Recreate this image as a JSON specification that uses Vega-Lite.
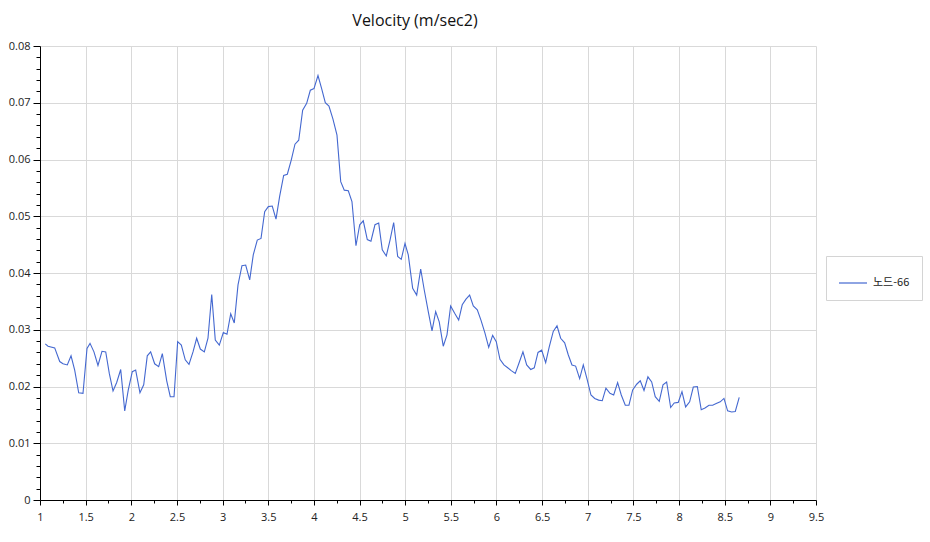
{
  "$schema": "https://vega.github.io/schema/vega-lite/v6.json",
  "width": 776,
  "height": 454,
  "autosize": {"type": "none"},
  "padding": {"left": 40, "top": 46, "right": 114, "bottom": 42},
  "background": "white",
  "config": {"view": {"stroke": null}, "font": "Open Sans"},
  "title": {"text": "Velocity (m/sec2)", "font": "Open Sans", "fontSize": 16, "fontWeight": "normal", "color": "#111", "dx": -13, "offset": 11},
  "data": {"values": [
    {"x":1.058,"y":0.0275,"s":"노드-66"},{"x":1.088,"y":0.0271,"s":"노드-66"},{"x":1.161,"y":0.0268,"s":"노드-66"},{"x":1.216,"y":0.0244,"s":"노드-66"},{"x":1.252,"y":0.0240,"s":"노드-66"},{"x":1.299,"y":0.0238,"s":"노드-66"},{"x":1.340,"y":0.0254,"s":"노드-66"},{"x":1.380,"y":0.0229,"s":"노드-66"},{"x":1.424,"y":0.0189,"s":"노드-66"},{"x":1.471,"y":0.0188,"s":"노드-66"},
    {"x":1.515,"y":0.0267,"s":"노드-66"},{"x":1.548,"y":0.0276,"s":"노드-66"},{"x":1.591,"y":0.0261,"s":"노드-66"},{"x":1.635,"y":0.0237,"s":"노드-66"},{"x":1.679,"y":0.0262,"s":"노드-66"},{"x":1.720,"y":0.0261,"s":"노드-66"},{"x":1.759,"y":0.0223,"s":"노드-66"},{"x":1.800,"y":0.0192,"s":"노드-66"},{"x":1.840,"y":0.0207,"s":"노드-66"},{"x":1.884,"y":0.0230,"s":"노드-66"},
    {"x":1.928,"y":0.0157,"s":"노드-66"},{"x":1.967,"y":0.0194,"s":"노드-66"},{"x":2.011,"y":0.0226,"s":"노드-66"},{"x":2.048,"y":0.0229,"s":"노드-66"},{"x":2.095,"y":0.0189,"s":"노드-66"},{"x":2.136,"y":0.0203,"s":"노드-66"},{"x":2.175,"y":0.0254,"s":"노드-66"},{"x":2.212,"y":0.0261,"s":"노드-66"},{"x":2.256,"y":0.0240,"s":"노드-66"},{"x":2.300,"y":0.0235,"s":"노드-66"},
    {"x":2.340,"y":0.0258,"s":"노드-66"},{"x":2.388,"y":0.0210,"s":"노드-66"},{"x":2.427,"y":0.0182,"s":"노드-66"},{"x":2.468,"y":0.0182,"s":"노드-66"},{"x":2.508,"y":0.0279,"s":"노드-66"},{"x":2.548,"y":0.0273,"s":"노드-66"},{"x":2.591,"y":0.0247,"s":"노드-66"},{"x":2.632,"y":0.0239,"s":"노드-66"},{"x":2.676,"y":0.0261,"s":"노드-66"},{"x":2.716,"y":0.0285,"s":"노드-66"},
    {"x":2.756,"y":0.0266,"s":"노드-66"},{"x":2.800,"y":0.0261,"s":"노드-66"},{"x":2.840,"y":0.0285,"s":"노드-66"},{"x":2.881,"y":0.0362,"s":"노드-66"},{"x":2.920,"y":0.0282,"s":"노드-66"},{"x":2.964,"y":0.0273,"s":"노드-66"},{"x":3.008,"y":0.0295,"s":"노드-66"},{"x":3.048,"y":0.0292,"s":"노드-66"},{"x":3.089,"y":0.0328,"s":"노드-66"},{"x":3.128,"y":0.0312,"s":"노드-66"},
    {"x":3.169,"y":0.0379,"s":"노드-66"},{"x":3.212,"y":0.0413,"s":"노드-66"},{"x":3.253,"y":0.0414,"s":"노드-66"},{"x":3.297,"y":0.0388,"s":"노드-66"},{"x":3.336,"y":0.0432,"s":"노드-66"},{"x":3.380,"y":0.0458,"s":"노드-66"},{"x":3.421,"y":0.0461,"s":"노드-66"},{"x":3.461,"y":0.0508,"s":"노드-66"},{"x":3.501,"y":0.0517,"s":"노드-66"},{"x":3.544,"y":0.0518,"s":"노드-66"},
    {"x":3.585,"y":0.0495,"s":"노드-66"},{"x":3.625,"y":0.0535,"s":"노드-66"},{"x":3.669,"y":0.0572,"s":"노드-66"},{"x":3.709,"y":0.0574,"s":"노드-66"},{"x":3.752,"y":0.0599,"s":"노드-66"},{"x":3.793,"y":0.0627,"s":"노드-66"},{"x":3.834,"y":0.0634,"s":"노드-66"},{"x":3.877,"y":0.0687,"s":"노드-66"},{"x":3.921,"y":0.0699,"s":"노드-66"},{"x":3.961,"y":0.0722,"s":"노드-66"},
    {"x":4.001,"y":0.0725,"s":"노드-66"},{"x":4.045,"y":0.0748,"s":"노드-66"},{"x":4.085,"y":0.0725,"s":"노드-66"},{"x":4.125,"y":0.0700,"s":"노드-66"},{"x":4.165,"y":0.0694,"s":"노드-66"},{"x":4.209,"y":0.0671,"s":"노드-66"},{"x":4.253,"y":0.0643,"s":"노드-66"},{"x":4.294,"y":0.0561,"s":"노드-66"},{"x":4.333,"y":0.0546,"s":"노드-66"},{"x":4.377,"y":0.0545,"s":"노드-66"},
    {"x":4.417,"y":0.0526,"s":"노드-66"},{"x":4.461,"y":0.0448,"s":"노드-66"},{"x":4.502,"y":0.0485,"s":"노드-66"},{"x":4.541,"y":0.0492,"s":"노드-66"},{"x":4.585,"y":0.0459,"s":"노드-66"},{"x":4.625,"y":0.0456,"s":"노드-66"},{"x":4.669,"y":0.0485,"s":"노드-66"},{"x":4.710,"y":0.0488,"s":"노드-66"},{"x":4.749,"y":0.0441,"s":"노드-66"},{"x":4.793,"y":0.0430,"s":"노드-66"},
    {"x":4.834,"y":0.0458,"s":"노드-66"},{"x":4.874,"y":0.0489,"s":"노드-66"},{"x":4.918,"y":0.0429,"s":"노드-66"},{"x":4.957,"y":0.0424,"s":"노드-66"},{"x":4.998,"y":0.0452,"s":"노드-66"},{"x":5.034,"y":0.0432,"s":"노드-66"},{"x":5.082,"y":0.0373,"s":"노드-66"},{"x":5.126,"y":0.0361,"s":"노드-66"},{"x":5.170,"y":0.0407,"s":"노드-66"},{"x":5.209,"y":0.0370,"s":"노드-66"},
    {"x":5.253,"y":0.0332,"s":"노드-66"},{"x":5.294,"y":0.0298,"s":"노드-66"},{"x":5.334,"y":0.0332,"s":"노드-66"},{"x":5.373,"y":0.0314,"s":"노드-66"},{"x":5.417,"y":0.0271,"s":"노드-66"},{"x":5.458,"y":0.0291,"s":"노드-66"},{"x":5.498,"y":0.0342,"s":"노드-66"},{"x":5.542,"y":0.0329,"s":"노드-66"},{"x":5.586,"y":0.0317,"s":"노드-66"},{"x":5.625,"y":0.0344,"s":"노드-66"},
    {"x":5.666,"y":0.0354,"s":"노드-66"},{"x":5.706,"y":0.0361,"s":"노드-66"},{"x":5.746,"y":0.0342,"s":"노드-66"},{"x":5.790,"y":0.0335,"s":"노드-66"},{"x":5.830,"y":0.0317,"s":"노드-66"},{"x":5.874,"y":0.0294,"s":"노드-66"},{"x":5.915,"y":0.0269,"s":"노드-66"},{"x":5.958,"y":0.0290,"s":"노드-66"},{"x":5.998,"y":0.0279,"s":"노드-66"},{"x":6.038,"y":0.0248,"s":"노드-66"},
    {"x":6.082,"y":0.0238,"s":"노드-66"},{"x":6.123,"y":0.0233,"s":"노드-66"},{"x":6.162,"y":0.0228,"s":"노드-66"},{"x":6.206,"y":0.0223,"s":"노드-66"},{"x":6.246,"y":0.0241,"s":"노드-66"},{"x":6.290,"y":0.0261,"s":"노드-66"},{"x":6.331,"y":0.0238,"s":"노드-66"},{"x":6.375,"y":0.0230,"s":"노드-66"},{"x":6.414,"y":0.0233,"s":"노드-66"},{"x":6.455,"y":0.0260,"s":"노드-66"},
    {"x":6.495,"y":0.0264,"s":"노드-66"},{"x":6.539,"y":0.0242,"s":"노드-66"},{"x":6.578,"y":0.0270,"s":"노드-66"},{"x":6.622,"y":0.0297,"s":"노드-66"},{"x":6.663,"y":0.0307,"s":"노드-66"},{"x":6.703,"y":0.0285,"s":"노드-66"},{"x":6.747,"y":0.0277,"s":"노드-66"},{"x":6.786,"y":0.0256,"s":"노드-66"},{"x":6.827,"y":0.0238,"s":"노드-66"},{"x":6.867,"y":0.0236,"s":"노드-66"},
    {"x":6.911,"y":0.0214,"s":"노드-66"},{"x":6.951,"y":0.0238,"s":"노드-66"},{"x":6.991,"y":0.0214,"s":"노드-66"},{"x":7.035,"y":0.0185,"s":"노드-66"},{"x":7.076,"y":0.0179,"s":"노드-66"},{"x":7.119,"y":0.0176,"s":"노드-66"},{"x":7.159,"y":0.0175,"s":"노드-66"},{"x":7.199,"y":0.0197,"s":"노드-66"},{"x":7.243,"y":0.0188,"s":"노드-66"},{"x":7.284,"y":0.0185,"s":"노드-66"},
    {"x":7.327,"y":0.0207,"s":"노드-66"},{"x":7.367,"y":0.0185,"s":"노드-66"},{"x":7.411,"y":0.0167,"s":"노드-66"},{"x":7.451,"y":0.0167,"s":"노드-66"},{"x":7.492,"y":0.0194,"s":"노드-66"},{"x":7.536,"y":0.0204,"s":"노드-66"},{"x":7.575,"y":0.0210,"s":"노드-66"},{"x":7.616,"y":0.0193,"s":"노드-66"},{"x":7.659,"y":0.0217,"s":"노드-66"},{"x":7.700,"y":0.0208,"s":"노드-66"},
    {"x":7.739,"y":0.0182,"s":"노드-66"},{"x":7.783,"y":0.0174,"s":"노드-66"},{"x":7.824,"y":0.0203,"s":"노드-66"},{"x":7.864,"y":0.0208,"s":"노드-66"},{"x":7.908,"y":0.0163,"s":"노드-66"},{"x":7.947,"y":0.0171,"s":"노드-66"},{"x":7.991,"y":0.0172,"s":"노드-66"},{"x":8.032,"y":0.0191,"s":"노드-66"},{"x":8.072,"y":0.0164,"s":"노드-66"},{"x":8.116,"y":0.0173,"s":"노드-66"},
    {"x":8.156,"y":0.0199,"s":"노드-66"},{"x":8.200,"y":0.0200,"s":"노드-66"},{"x":8.243,"y":0.0159,"s":"노드-66"},{"x":8.284,"y":0.0162,"s":"노드-66"},{"x":8.328,"y":0.0167,"s":"노드-66"},{"x":8.368,"y":0.0167,"s":"노드-66"},{"x":8.407,"y":0.0170,"s":"노드-66"},{"x":8.451,"y":0.0173,"s":"노드-66"},{"x":8.492,"y":0.0179,"s":"노드-66"},{"x":8.532,"y":0.0157,"s":"노드-66"},
    {"x":8.576,"y":0.0155,"s":"노드-66"},{"x":8.616,"y":0.0156,"s":"노드-66"},{"x":8.659,"y":0.0181,"s":"노드-66"}
  ]},
  "mark": {"type": "line", "strokeWidth": 1.1, "interpolate": "linear"},
  "encoding": {
    "x": {
      "field": "x", "type": "quantitative",
      "scale": {"domain": [1, 9.5], "nice": false, "zero": false},
      "axis": {
        "title": null,
        "values": [1,1.25,1.5,1.75,2,2.25,2.5,2.75,3,3.25,3.5,3.75,4,4.25,4.5,4.75,5,5.25,5.5,5.75,6,6.25,6.5,6.75,7,7.25,7.5,7.75,8,8.25,8.5,8.75,9,9.25,9.5],
        "labelExpr": "abs(datum.value*2 - round(datum.value*2)) < 1e-6 ? format(datum.value, '~g') : ''",
        "labelFont": "Open Sans", "labelFontSize": 11, "labelColor": "#222",
        "labelPadding": 6, "labelFlush": false, "labelOverlap": false,
        "domainColor": "#000", "domainWidth": 1,
        "tickColor": "#000", "tickWidth": 1,
        "tickSize": {"condition": {"test": "abs(datum.value*2 - round(datum.value*2)) < 1e-6", "value": 5}, "value": 3},
        "gridColor": "#d9d9d9", "gridWidth": 1,
        "gridOpacity": {"condition": {"test": "abs(datum.value*2 - round(datum.value*2)) < 1e-6", "value": 1}, "value": 0},
        "encode": {"ticks": {"update": {"y": {"signal": "abs(datum.value*2 - round(datum.value*2)) < 1e-6 ? -6 : -3"}}}}
      }
    },
    "y": {
      "field": "y", "type": "quantitative",
      "scale": {"domain": [0, 0.08], "nice": false},
      "axis": {
        "title": null,
        "values": [0,0.002,0.004,0.006,0.008,0.01,0.012,0.014,0.016,0.018,0.02,0.022,0.024,0.026,0.028,0.03,0.032,0.034,0.036,0.038,0.04,0.042,0.044,0.046,0.048,0.05,0.052,0.054,0.056,0.058,0.06,0.062,0.064,0.066,0.068,0.07,0.072,0.074,0.076,0.078,0.08],
        "labelExpr": "abs(datum.value*100 - round(datum.value*100)) < 1e-6 ? format(datum.value, '~g') : ''",
        "labelFont": "Open Sans", "labelFontSize": 11, "labelColor": "#222",
        "labelPadding": 3, "labelFlush": false, "labelOverlap": false,
        "domainColor": "#000", "domainWidth": 1,
        "tickColor": "#000", "tickWidth": 1,
        "tickSize": {"condition": {"test": "abs(datum.value*100 - round(datum.value*100)) < 1e-6", "value": 7}, "value": 4},
        "gridColor": "#d9d9d9", "gridWidth": 1,
        "gridOpacity": {"condition": {"test": "abs(datum.value*100 - round(datum.value*100)) < 1e-6", "value": 1}, "value": 0},
        "encode": {"ticks": {"update": {"x": {"signal": "abs(datum.value*100 - round(datum.value*100)) < 1e-6 ? 5 : 3"}}}}
      }
    },
    "color": {
      "field": "s", "type": "nominal",
      "scale": {"domain": ["노드-66"], "range": ["#4468d0"]},
      "legend": {
        "title": null, "orient": "none", "legendX": 786, "legendY": 210,
        "padding": 12, "strokeColor": "#d4d4d4", "fillColor": "white",
        "symbolType": "stroke", "symbolSize": 784, "symbolStrokeWidth": 1.2,
        "labelFont": "Noto Sans CJK KR", "labelFontSize": 11, "labelColor": "#222", "labelOffset": 5
      }
    }
  }
}
